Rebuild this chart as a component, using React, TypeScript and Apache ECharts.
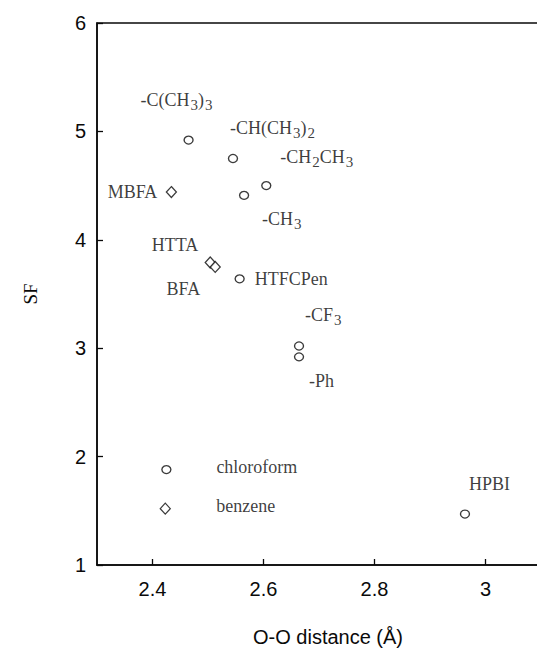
import React, { useEffect, useRef } from "react";
import * as echarts from "echarts";

// Circles
const circleNames = ["-C(CH3)3", "-CH(CH3)2", "-CH2CH3", "-CH3", "HTFCPen", "-CF3", "-Ph", "chloroform", "HPBI"];
const circleX = [2.465, 2.545, 2.605, 2.565, 2.557, 2.664, 2.664, 2.425, 2.963];
const circleY = [4.92, 4.75, 4.5, 4.41, 3.64, 3.02, 2.92, 1.88, 1.47];

// Diamonds
const diamondNames = ["MBFA", "HTTA", "BFA", "benzene"];
const diamondX = [2.434, 2.504, 2.513, 2.423];
const diamondY = [4.44, 3.79, 3.75, 1.52];

// Axis ticks
const xTicks = [2.4, 2.6, 2.8, 3.0];
const xTitle = "O-O distance (Å)";
const yTitle = "SF";

// label placement relative to the marker (style only)
const labelPlace: Record<string, [number, number, string]> = {
  "-C(CH3)3": [-48, -40, "left"],
  "-CH(CH3)2": [-3, -31, "left"],
  "-CH2CH3": [14, -29, "left"],
  "-CH3": [18, 24, "left"],
  HTFCPen: [15, 0, "left"],
  "-CF3": [6, -31, "left"],
  "-Ph": [10, 24, "left"],
  chloroform: [50, -3, "left"],
  HPBI: [4, -30, "left"],
  MBFA: [-14, 0, "right"],
  HTTA: [-12, -18, "right"],
  BFA: [-15, 22, "right"],
  benzene: [51, -3, "left"],
};

const INK = "#0a0a0a";
const SERIF = "'Liberation Serif', 'Times New Roman', serif";
const SANS = "'Liberation Sans', Arial, sans-serif";

function richName(n: string) {
  return n.replace(/([A-Za-z)])(\d)/g, "$1{s|$2}");
}

function buildData(names: string[], xs: number[], ys: number[]) {
  return names.map((n, i) => {
    const p = labelPlace[n];
    return {
      name: n,
      value: [xs[i], ys[i]],
      label: { offset: [p[0], p[1]], align: p[2] },
    };
  });
}

const labelBase = {
  show: true,
  position: "inside",
  verticalAlign: "middle",
  color: INK,
  textBorderWidth: 0,
  fontFamily: SERIF,
  fontSize: 18,
  lineHeight: 20,
  formatter: (p: any) => richName(p.name),
  rich: {
    s: {
      fontFamily: SERIF,
      fontSize: 15,
      lineHeight: 15,
      color: INK,
      padding: [10, 0, 0, 1],
    },
  },
};

export default function App() {
  const ref = useRef<HTMLDivElement>(null);
  useEffect(() => {
    if (!ref.current) return;
    const chart = echarts.init(ref.current, null, { renderer: "svg" });
    chart.setOption({
      animation: false,
      backgroundColor: "#ffffff",
      grid: {
        left: 97,
        right: 4,
        top: 23,
        bottom: 86,
        show: true,
        borderColor: INK,
        borderWidth: 1.5,
      },
      xAxis: {
        type: "value",
        min: 2.3,
        max: 3.1,
        name: xTitle,
        nameLocation: "middle",
        nameGap: 62,
        nameTextStyle: { fontFamily: SANS, fontSize: 20, color: INK, padding: [0, 0, 0, 18] },
        axisLine: { show: true, onZero: false, lineStyle: { color: INK, width: 1.5 } },
        axisTick: { show: true, inside: true, length: 6, customValues: xTicks, lineStyle: { color: INK, width: 1.3 } },
        axisLabel: { customValues: xTicks, fontFamily: SANS, fontSize: 20, color: INK, margin: 14 },
        splitLine: { show: false },
      },
      yAxis: {
        type: "value",
        min: 1,
        max: 6,
        interval: 1,
        name: yTitle,
        nameLocation: "middle",
        nameGap: 57,
        nameTextStyle: { fontFamily: SERIF, fontSize: 19, color: INK },
        axisLine: { show: true, onZero: false, lineStyle: { color: INK, width: 1.5 } },
        axisTick: { show: true, inside: true, length: 6, lineStyle: { color: INK, width: 1.3 } },
        axisLabel: { fontFamily: SANS, fontSize: 20, color: INK, margin: 11 },
        splitLine: { show: false },
      },
      series: [
        {
          type: "scatter",
          symbol: "circle",
          symbolSize: [9, 8],
          itemStyle: { color: "#ffffff", borderColor: INK, borderWidth: 1.3 },
          label: labelBase,
          data: buildData(circleNames, circleX, circleY),
        },
        {
          type: "scatter",
          symbol: "diamond",
          symbolSize: [10, 11],
          itemStyle: { color: "#ffffff", borderColor: INK, borderWidth: 1.3 },
          label: labelBase,
          data: buildData(diamondNames, diamondX, diamondY),
        },
      ],
    });
    return () => chart.dispose();
  }, []);
  return (
    <div
      style={{ position: "absolute", left: 0, top: 0, width: 537, height: 652, overflow: "hidden", background: "#fff" }}
    >
      <div ref={ref} style={{ width: 545, height: 652 }} />
    </div>
  );
}
